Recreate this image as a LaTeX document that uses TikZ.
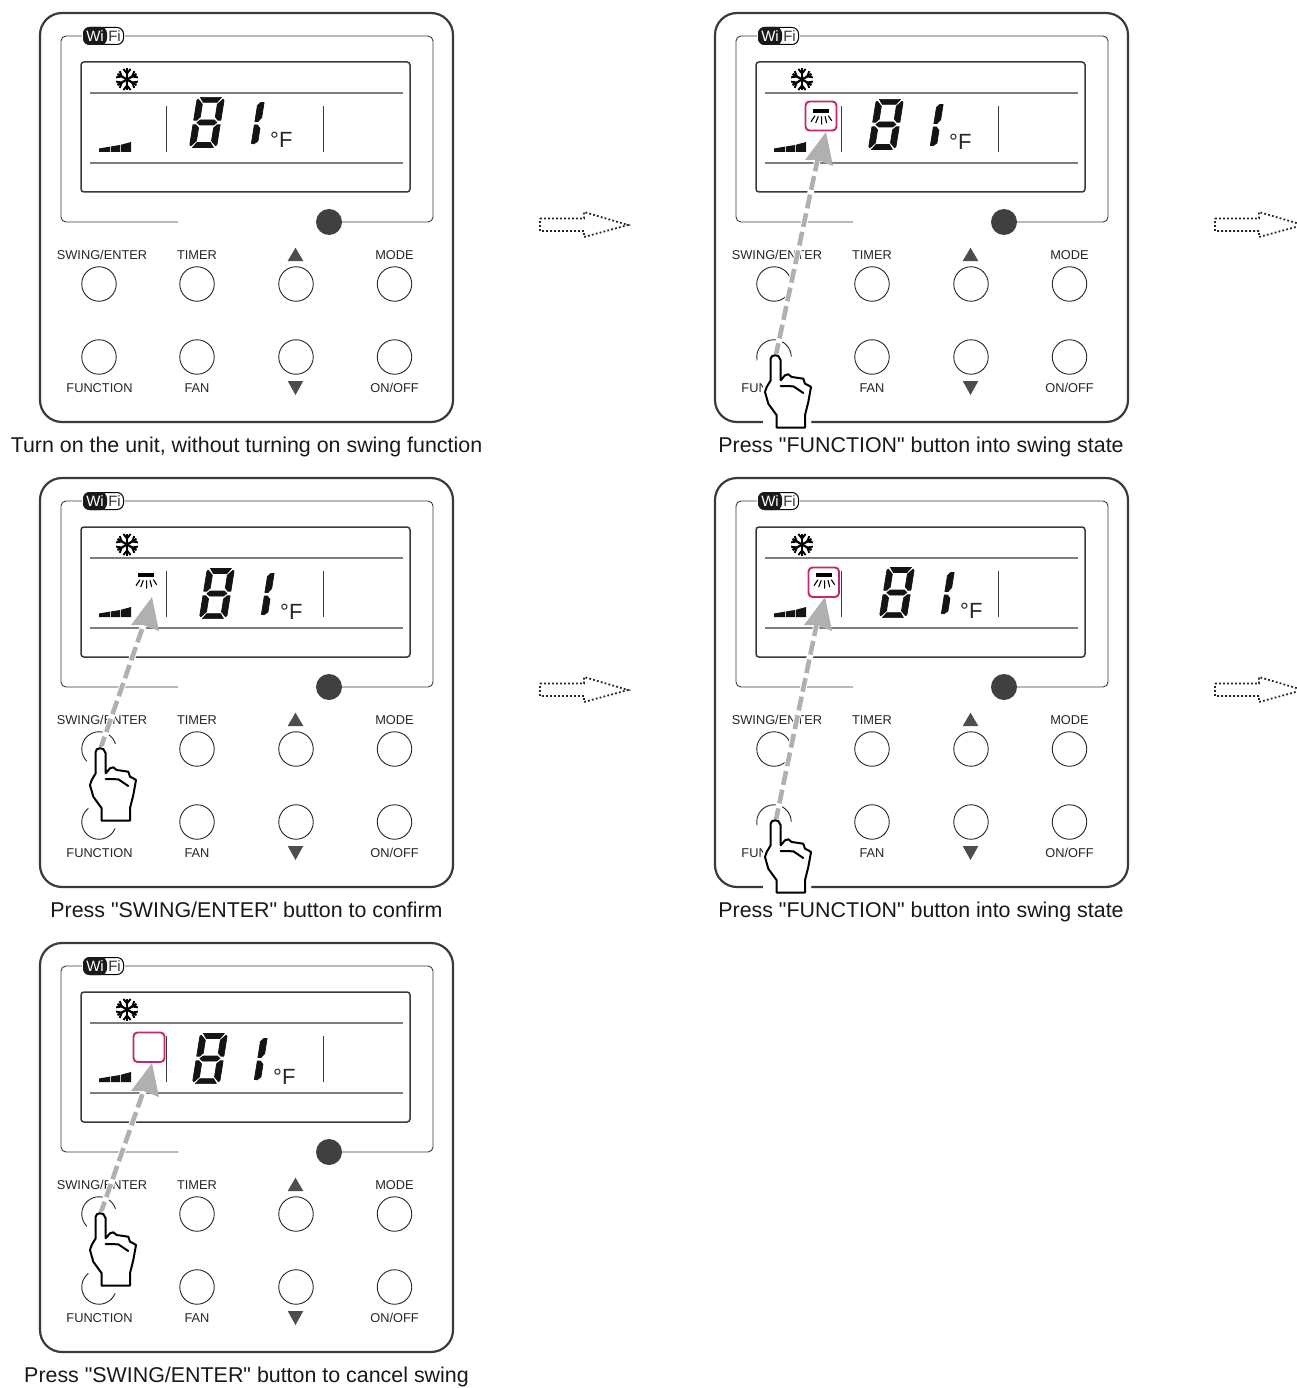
\documentclass[tikz,border=0pt]{standalone}
\usepackage{fontspec}
\setmainfont{Liberation Sans}[Ligatures=TeXOff]
\usetikzlibrary{calc}
\definecolor{inkdark}{HTML}{3A3A3A}
\definecolor{inkmid}{HTML}{7D7D7D}
\definecolor{knob}{HTML}{404040}
\definecolor{tri}{HTML}{4D4D4D}
\definecolor{pinkbox}{HTML}{C9256F}
\definecolor{pressgray}{HTML}{B0B0B0}
\tikzset{
  x=1pt,y=-1pt,
  outerframe/.style={draw=inkdark,line width=2.2,rounded corners=22},
  innerframe/.style={draw=inkdark,line width=.9,rounded corners=5},
  lcdframe/.style={draw=inkdark,line width=1.5,rounded corners=3},
  lcdrule/.style={draw=inkmid,line width=1.5},
  lcdbar/.style={draw=inkdark,line width=1},
  btn/.style={circle,draw=black!85,line width=.9,minimum size=34.5,inner sep=0,fill=white},
  btnlabel/.style={inner sep=0,anchor=base,text=black!85,font=\fontsize{12.8}{15}\selectfont},
  caption/.style={inner sep=0,anchor=base,text=black!90,font=\fontsize{21.4}{24}\selectfont},
  seg/.style={fill=black!92,draw=black!92,line width=.7,line join=round},
  hintarrow/.style={draw=black!85,line width=1.8,dash pattern=on 1.8 off 2.2},
  handline/.style={draw=black,line width=2,line join=round,line cap=round},
  pinkframe/.style={draw=pinkbox,line width=1.9,rounded corners=4},
}
% eight and one, with the group's shift in x and y
\newcommand\lcdvalue[3]{%
  \begin{scope}[shift={(197+#2,97+#3)},xslant=.16]
    \filldraw[seg] (3.5,.4)--(24.5,.4)--(20.8,5.4)--(7.2,5.4)--cycle;
    \filldraw[seg] (.4,3.6)--(1.6,2.2)--(6.5,7.2)--(6.5,20)--(3.5,23.2)--(.4,23.2)--cycle;
    \filldraw[seg] (27.6,3.6)--(26.4,2.2)--(21.5,7.2)--(21.5,20)--(24.5,23.2)--(27.6,23.2)--cycle;
    \filldraw[seg] (4,25.5)--(7,23)--(21,23)--(24,25.5)--(21,28)--(7,28)--cycle;
    \filldraw[seg] (.4,27.8)--(3.5,27.8)--(6.5,31)--(6.5,43.8)--(1.6,48.8)--(.4,47.4)--cycle;
    \filldraw[seg] (27.6,27.8)--(24.5,27.8)--(21.5,31)--(21.5,43.8)--(26.4,48.8)--(27.6,47.4)--cycle;
    \filldraw[seg] (3.5,50.6)--(24.5,50.6)--(20.8,45.6)--(7.2,45.6)--cycle;
    \filldraw[seg] (61.8,8.5)--(64.5,5.6)--(68,5.4)--(68,20.5)--(65,24.5)--(61.8,24.5)--cycle;
    \filldraw[seg] (61.8,28)--(65,28)--(68,31.5)--(68,44)--(64.5,46.8)--(61.8,46.5)--cycle;
  \end{scope}
  \node[inner sep=0,anchor=base west,text=black!85,font=\fontsize{22}{24}\selectfont] (#1-unit) at (270+#2,148+#3) {°F};
}
\newcommand\fanicon[2]{%
  \begin{scope}[shift={(#1,#2)}]
    \fill[black] (-8,0) rectangle (8,4);
    \foreach \ax/\ay/\bx/\by in {-6/6.7/-10/12.7,-2.7/7.3/-5.3/14,.5/7.3/.7/15.5,4/7.3/5.7/14,7.3/6.7/10.7/11.7}
      \draw[black,line width=1.1] (\ax,\ay)--(\bx,\by);
  \end{scope}
}
\newcommand\ctrlpanel[5]{% id, dx, dy, group dx, group dy
\begin{scope}[shift={(#2,#3)}]
  \draw[outerframe] (40,13) rectangle (453,422);
  \draw[innerframe] (178,222)--(61,222)--(61,36)--(433,36)--(433,222)--(329,222);
  \node[circle,fill=knob,minimum size=26,inner sep=0] (#1-knob) at (329,222) {};
  % wifi badge
  \fill[white] (82,27) rectangle (125,45);
  \draw[draw=black,line width=1,fill=white,rounded corners=6.5] (83.5,27.5) rectangle (123.5,44.5);
  \fill[black!90,rounded corners=6.5] (83,27) -- (107,27) -- (107,45) -- (83,45) -- cycle;
  \fill[black!90] (98,27) rectangle (105,45);
  \node[inner sep=0,text=white,font=\fontsize{15}{16}\selectfont,anchor=base] (#1-wi) at (95,41.3) {Wi};
  \node[inner sep=0,text=black!80,font=\fontsize{15}{16}\selectfont,anchor=base] (#1-fi) at (114.5,41.3) {Fi};
  % display
  \draw[lcdframe] (81,62) rectangle (410,192);
  \draw[lcdrule] (90,93)--(403,93);
  \draw[lcdrule] (90,163)--(403,163);
  \draw[lcdbar] (166.5,106)--(166.5,152);
  \draw[lcdbar] (323,106)--(323,152);
  % snowflake
  \begin{scope}[shift={(127,79.5)}]
    \foreach \ang in {30,90,150,210,270,330}{
      \draw[black,line width=2.2,rotate=\ang] (0,0)--(11,0);
      \draw[black,line width=1.9,rotate=\ang] (10.5,3.6)--(6,0)--(10.5,-3.6);
    }
  \end{scope}
  % fan speed wedge
  \fill[black!92] (99,148.5)--(110,146.6)--(110,152)--(99,152)--cycle;
  \fill[black!92] (110.8,146.5)--(120,145)--(120,152)--(110.8,152)--cycle;
  \fill[black!92] (120.8,144.8)--(131,142)--(131,152)--(120.8,152)--cycle;
  \lcdvalue{#1}{#4}{#5}
  % buttons
  \node[btn] (#1-swing) at (99,284) {};
  \node[btn] (#1-timer) at (197,284) {};
  \node[btn] (#1-up) at (296,284) {};
  \node[btn] (#1-mode) at (394.5,284) {};
  \node[btn] (#1-func) at (99,357) {};
  \node[btn] (#1-fan) at (197,357) {};
  \node[btn] (#1-down) at (296,357) {};
  \node[btn] (#1-onoff) at (394.5,357) {};
  \node[btnlabel] (#1-lswing) at (102,259.5) {SWING/ENTER};
  \node[btnlabel] (#1-ltimer) at (197,259.5) {TIMER};
  \node[btnlabel] (#1-lmode) at (394.5,259.5) {MODE};
  \node[btnlabel] (#1-lfunc) at (99.5,392) {FUNCTION};
  \node[btnlabel] (#1-lfan) at (197,392) {FAN};
  \node[btnlabel] (#1-lonoff) at (394.5,392) {ON/OFF};
  \fill[tri] (295.5,247.7)--(303.3,261)--(287.7,261)--cycle;
  \fill[tri] (295.5,395)--(303.3,381)--(287.7,381)--cycle;
\end{scope}}
\newcommand\pressarrow[7]{% id, dx, dy, tail x,y, tip x,y
\begin{scope}[shift={(#2,#3)}]
  \coordinate (#1-tail) at (#4,#5);
  \coordinate (#1-tip) at (#6,#7);
  \coordinate (#1-neck) at ($(#1-tip)+(-8.5,28)$);
  \draw[white,line width=6.5] (#1-tail)--(#1-neck);
  \draw[pressgray,line width=4.6,dash pattern=on 14 off 5] (#1-tail)--(#1-neck);
  \fill[pressgray] (#1-tip)--++(7,34)--++(-15.5,-6)--++(-12.5,0)--cycle;
\end{scope}}
\newcommand\handshape{%
  \fill[handline,fill=white] (0,.3)--(-3,1.2)--(-4.3,3.7)--(-4.3,25.3)--(-8.3,32)--(-10,37)--(-6.7,48.7)--(1.7,60.3)--(1.7,72.7)--(30,72.7)--(30,60.3)--(33.3,47)--(36,32)--(33.3,30.3)--(30,28.7)--(28.3,23.7)--(21.7,22.7)--(16.7,22)--(13.3,19.3)--(10,20.3)--(5.7,25.3)--(5.7,5.3)--(3.3,1)--cycle;
  \draw[handline] (5.7,31)--(18.3,31.3)--(28.3,38);
}
\newcommand\handswing[3]{\begin{scope}[shift={(#2+100,#3+283)}]
  \fill[white] (-14,15)--(-8,2)--(10,-4)--(20,-4)--(41,25)--(41,50)--(36,76)--(14,80.5)--(5,74)--(-12,60)--(-14,45)--cycle;
  \handshape
\end{scope}}
\newcommand\handfunc[3]{\begin{scope}[shift={(#2+100,#3+355)}]
  \fill[white] (-19,6)--(-19,22)--(-12,25)--(-12,78)--(35,78)--(41,25)--(17,2)--(8,-1)--(-6,-1)--cycle;
  \handshape
\end{scope}}
\newcommand\fatarrow[3]{% dotted hollow arrow
  \draw[hintarrow] (540+#2,218.5+#3)--(584+#2,218.5+#3)--(584+#2,212+#3)--(628+#2,225+#3)--(584+#2,237+#3)--(584+#2,231+#3)--(540+#2,231+#3)--cycle;
  \coordinate (#1) at (584+#2,225+#3);
}
\begin{document}
\begin{tikzpicture}
\useasboundingbox (0,0) rectangle (1297,1388);
\clip (0,0) rectangle (1297,1388);
\fill[white] (0,0) rectangle (1297,1388);

\ctrlpanel{pa}{0}{0}{0}{0}
\node[caption] (capa) at (246.5,452) {Turn on the unit, without turning on swing function};

\ctrlpanel{pb}{675}{0}{4}{2}
\fanicon{821}{109}
\draw[pinkframe] (805.5,101.5) rectangle (836.5,130.5);
\pressarrow{ab}{675}{0}{100.5}{357}{151}{132}
\handfunc{hb}{675}{0}
\node[caption] (capb) at (921,452) {Press "FUNCTION" button into swing state};

\ctrlpanel{pc}{0}{465}{10}{6}
\fanicon{146}{573}
\pressarrow{ac}{0}{465}{100}{285}{152}{132}
\handswing{hc}{0}{465}
\node[caption] (capc) at (246.5,917) {Press "SWING/ENTER" button to confirm};

\ctrlpanel{pd}{675}{465}{15}{5}
\fanicon{824}{573}
\draw[pinkframe] (808.5,567.5) rectangle (839,597);
\pressarrow{ad}{675}{465}{100.5}{357}{150}{132}
\handfunc{hd}{675}{465}
\node[caption] (capd) at (921,917) {Press "FUNCTION" button into swing state};

\ctrlpanel{pe}{0}{930}{3}{6}
\draw[pinkframe] (133.5,1032.5) rectangle (164.5,1062);
\pressarrow{ae}{0}{930}{100}{285}{152}{133}
\handswing{he}{0}{930}
\node[caption] (cape) at (246.5,1382) {Press "SWING/ENTER" button to cancel swing};

\fatarrow{fa}{0}{0}
\fatarrow{fb}{675}{0}
\fatarrow{fc}{0}{465}
\fatarrow{fd}{675}{465}
\end{tikzpicture}
\end{document}
